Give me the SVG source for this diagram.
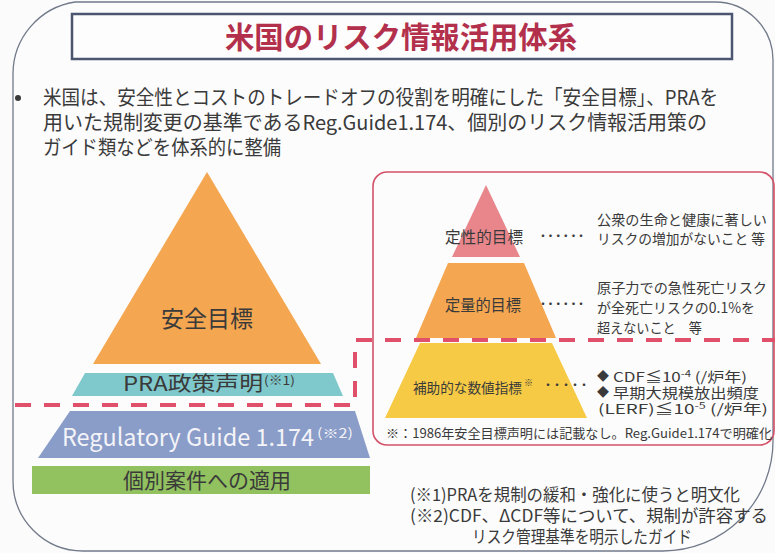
<svg xmlns="http://www.w3.org/2000/svg" width="775" height="553" viewBox="0 0 775 553">
<style>
text{font-family:"Noto Sans CJK JP","Noto Sans",sans-serif;fill:#3a3a3a}
.body{font-size:20px}
.lab{font-size:16px}
.rt{font-size:14.2px}
.sm{font-size:13.5px}
.note{font-size:17px}
.dash{fill:none;stroke:#e0506a;stroke-width:4;stroke-dasharray:16 13}
</style>
<rect width="775" height="553" fill="#fbfbfb"/>
<path d="M75,2 H715 A58,58 0 0 1 773,60 V440 A110,110 0 0 1 663,551 H83 A70,70 0 0 1 13,481 V75 A73,73 0 0 1 75,2 Z" fill="#fcfcfc" stroke="#727a8a" stroke-width="1.3"/>
<g id="title">
<rect x="72" y="14" width="660" height="45" fill="#fdfdfd" stroke="#4c5670" stroke-width="2.5"/>
<text x="225" y="48" font-size="30" font-weight="bold" textLength="352" lengthAdjust="spacingAndGlyphs" style="fill:#b3304c">米国のリスク情報活用体系</text>
</g>
<g id="intro">
<circle cx="18" cy="98" r="3" fill="#3a3a3a"/>
<text class="body" x="43" y="105" textLength="675" lengthAdjust="spacingAndGlyphs">米国は、安全性とコストのトレードオフの役割を明確にした「安全目標」、PRAを</text>
<text class="body" x="43" y="130" textLength="664" lengthAdjust="spacingAndGlyphs">用いた規制変更の基準であるReg.Guide1.174、個別のリスク情報活用策の</text>
<text class="body" x="43" y="155" textLength="238" lengthAdjust="spacingAndGlyphs">ガイド類などを体系的に整備</text>
</g>
<g id="safety-goal">
<polygon points="207,172 321,364 93,364" fill="#f4a650"/>
<text x="207" y="327" font-size="23" text-anchor="middle">安全目標</text>
</g>
<g id="pra-policy">
<polygon points="85,373 333,373 343,396 72,396" fill="#7fc8cc"/>
<text x="123" y="391" font-size="20" textLength="140" lengthAdjust="spacingAndGlyphs">PRA政策声明</text>
<text x="264" y="385" font-size="12" textLength="31" lengthAdjust="spacingAndGlyphs">(※1)</text>
</g>
<g id="reg-guide">
<polygon points="70,411 355,411 370,458 38,458" fill="#8a9cc8"/>
<text x="62" y="446" font-size="24" textLength="252" lengthAdjust="spacingAndGlyphs" style="fill:#f4f4f8">Regulatory Guide 1.174</text>
<text x="317" y="438" font-size="13" textLength="36" lengthAdjust="spacingAndGlyphs" style="fill:#f4f4f8">(※2)</text>
</g>
<g id="application">
<rect x="32" y="466" width="338" height="28" fill="#92c160"/>
<text x="207" y="488" font-size="21" text-anchor="middle">個別案件への適用</text>
</g>
<g id="us-goals">
<rect x="373" y="172" width="401" height="273" rx="14" fill="none" stroke="#d45068" stroke-width="1.6"/>
<g id="qualitative">
<polygon points="486,185 520,257 452,257" fill="#e8868c"/>
<text class="lab" x="445" y="243" textLength="78" lengthAdjust="spacingAndGlyphs">定性的目標</text>
<text x="537" y="241" font-size="12" textLength="50" lengthAdjust="spacing">・・・・・・</text>
<text class="rt" x="597" y="225" textLength="170" lengthAdjust="spacingAndGlyphs">公衆の生命と健康に著しい</text>
<text class="rt" x="597" y="244" textLength="168" lengthAdjust="spacingAndGlyphs">リスクの増加がないこと 等</text>
</g>
<g id="quantitative">
<polygon points="448,263 524,263 556,338 416,338" fill="#f4a650"/>
<text class="lab" x="445" y="311" textLength="76" lengthAdjust="spacingAndGlyphs">定量的目標</text>
<text x="537" y="309" font-size="12" textLength="50" lengthAdjust="spacing">・・・・・・</text>
<text class="rt" x="597" y="293" textLength="170" lengthAdjust="spacingAndGlyphs">原子力での急性死亡リスク</text>
<text class="rt" x="597" y="313" textLength="158" lengthAdjust="spacingAndGlyphs">が全死亡リスクの0.1%を</text>
<text class="rt" x="597" y="333" textLength="105" lengthAdjust="spacingAndGlyphs">超えないこと　等</text>
</g>
<g id="supplementary">
<polygon points="420,343 552,343 587,418 385,418" fill="#f6ca45"/>
<text x="413" y="393" font-size="13.6" textLength="109" lengthAdjust="spacingAndGlyphs">補助的な数値指標</text>
<text x="524" y="386" font-size="9">※</text>
<text x="542" y="390" font-size="12" textLength="48" lengthAdjust="spacing">・・・・・</text>
<text x="597" y="381" font-size="12">◆</text>
<text class="sm" x="613" y="382" textLength="134" lengthAdjust="spacingAndGlyphs">CDF≦10<tspan font-size="9" dy="-5">-4</tspan><tspan dy="5"> (/炉年)</tspan></text>
<text x="597" y="397" font-size="12">◆</text>
<text class="sm" x="613" y="398" textLength="146" lengthAdjust="spacingAndGlyphs">早期大規模放出頻度</text>
<text class="sm" x="598" y="414" textLength="170" lengthAdjust="spacingAndGlyphs">(LERF)≦10<tspan font-size="9" dy="-5">-5</tspan><tspan dy="5"> (/炉年)</tspan></text>
</g>
<text x="386" y="438" font-size="12.8" textLength="386" lengthAdjust="spacingAndGlyphs">※：1986年安全目標声明には記載なし。Reg.Guide1.174で明確化</text>
</g>
<g id="connectors">
<path class="dash" d="M15,405 H355 V340 H775"/>
</g>
<g id="notes">
<text class="note" x="410" y="501" textLength="330" lengthAdjust="spacingAndGlyphs">(※1)PRAを規制の緩和・強化に使うと明文化</text>
<text class="note" x="410" y="522" textLength="358" lengthAdjust="spacingAndGlyphs">(※2)CDF、ΔCDF等について、規制が許容する</text>
<text class="note" x="472" y="543" textLength="220" lengthAdjust="spacingAndGlyphs">リスク管理基準を明示したガイド</text>
</g>
</svg>
